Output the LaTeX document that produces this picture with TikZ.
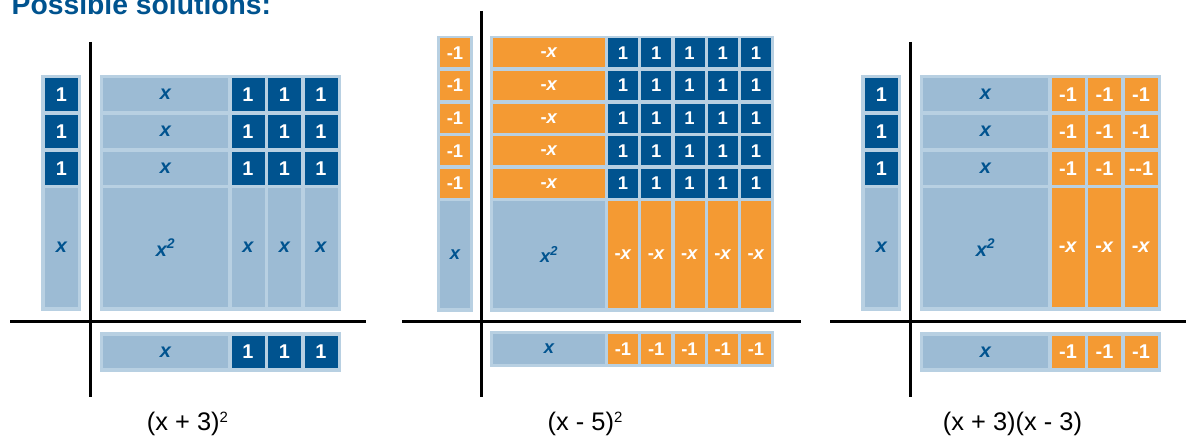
\documentclass[tikz,border=0pt]{standalone}
\usepackage{fontspec}
\setmainfont{Liberation Sans}
\definecolor{dblue}{HTML}{00538F}
\definecolor{lblue}{HTML}{9CBBD4}
\definecolor{fblue}{HTML}{B8D0E2}
\definecolor{orng}{HTML}{F49A33}
\newcommand{\TileFont}{\fontsize{20}{20}\selectfont}
\tikzset{
  tilebase/.style={inner sep=0pt, outer sep=0pt, anchor=north west, font=\bfseries\TileFont},
  framebox/.style={tilebase, fill=fblue},
  unittile/.style={tilebase, fill=dblue, text=white},
  negtile/.style={tilebase, fill=orng, text=white},
  vartile/.style={tilebase, fill=lblue, text=dblue, font=\bfseries\itshape\TileFont},
  axisline/.style={line width=3bp, black},
  caption/.style={anchor=base, inner sep=0pt, font=\fontsize{25.5}{26}\selectfont},
}
\newcommand{\SupTwo}{\raisebox{8bp}{\fontsize{15}{15}\selectfont 2}}
% style, name, x1, y1, x2, y2, text
\newcommand{\Tile}[7]{%
  \node[#1, minimum width={((#5)-(#3))*1bp}, minimum height={((#6)-(#4))*1bp}] (#2) at ({#3},{#4}) {#7};}
% #1 offset, #2 prefix, #3 small style, #4 small text, #5 strip style, #6 strip text, #7 text of cell r3c3
\newcommand{\SqPanel}[7]{%
  \coordinate (#2vt) at (90.5+#1,42);
  \coordinate (#2vb) at (90.5+#1,397);
  \coordinate (#2hl) at (10+#1,322);
  \coordinate (#2hr) at (366+#1,322);
  \Tile{framebox}{#2lf}{41+#1}{75}{81+#1}{311}{}
  \Tile{framebox}{#2mf}{100+#1}{75}{341+#1}{311}{}
  \Tile{framebox}{#2bf}{100+#1}{332}{341+#1}{372}{}
  \foreach \r/\y in {1/78,2/115,3/152}{%
    \Tile{unittile}{#2l\r}{45+#1}{\y}{78+#1}{\y+33}{1}
    \Tile{vartile}{#2x\r}{103+#1}{\y}{228+#1}{\y+33}{x}
    \foreach \c/\xx in {1/231.5,2/268,3/304.5}{%
      \Tile{#3}{#2m\r\c}{\xx+#1}{\y}{\xx+33+#1}{\y+33}{\ifnum\r\c=33 #7\else #4\fi}
    }
  }
  \Tile{vartile}{#2lx}{45+#1}{188}{78+#1}{307}{x}
  \Tile{vartile}{#2sq}{103+#1}{188}{228+#1}{307}{x\textsuperscript{2}}
  \Tile{vartile}{#2bx}{103+#1}{336}{228+#1}{368}{x}
  \foreach \c/\xx in {1/231.5,2/268,3/304.5}{%
    \Tile{#5}{#2s\c}{\xx+#1}{188}{\xx+33+#1}{307}{#6}
    \Tile{#3}{#2b\c}{\xx+#1}{336}{\xx+33+#1}{368}{#4}
  }
  \draw[axisline] (#2vt) -- (#2vb);
  \draw[axisline] (#2hl) -- (#2hr);
}
\begin{document}
\begin{tikzpicture}[x=1bp,y=-1bp]
\useasboundingbox (0,0) rectangle (1189,439);
\node[anchor=base west, inner sep=0pt, text=dblue, font=\bfseries\fontsize{28.4}{30}\selectfont] (title) at (11.5,15) {Possible solutions:};

% Panel 1: (x+3)^2
\SqPanel{0}{a}{unittile}{1}{vartile}{\textit{x}}{1}
\node[caption] (capa) at (187.5,431) {(x + 3)\SupTwo};

% Panel 3: (x+3)(x-3)
\SqPanel{820}{c}{negtile}{-1}{negtile}{-\textit{x}}{-{}-1}
\node[caption] (capc) at (1012.5,431) {(x + 3)(x - 3)};

% Panel 2: (x-5)^2
\begingroup
\renewcommand{\TileFont}{\fontsize{18.5}{18.5}\selectfont}
\coordinate (bvt) at (481.7,11);
\coordinate (bvb) at (481.7,397);
\coordinate (bhl) at (402,322);
\coordinate (bhr) at (801,322);
\Tile{framebox}{blf}{437}{36}{473}{312}{}
\Tile{framebox}{bmf}{490}{36}{774}{312}{}
\Tile{framebox}{bbf}{490}{331}{774}{367}{}
\foreach \r in {0,...,4}{%
  \pgfmathsetmacro\y{38.5+32.6*\r}
  \Tile{negtile}{bl\r}{440}{\y}{470}{\y+29}{-1}
  \Tile{negtile}{bx\r}{493}{\y}{605}{\y+29}{-\textit{x}}
  \foreach \c in {0,...,4}{%
    \pgfmathsetmacro\xx{608+33.25*\c}
    \Tile{unittile}{bm\r\c}{\xx}{\y}{\xx+30}{\y+29}{1}
  }
}
\Tile{vartile}{blx}{440}{201}{470}{308}{x}
\Tile{vartile}{bsq}{493}{201}{605}{308}{x\textsuperscript{2}}
\Tile{vartile}{bbx}{493}{334}{605}{364}{x}
\foreach \c in {0,...,4}{%
  \pgfmathsetmacro\xx{608+33.25*\c}
  \Tile{negtile}{bs\c}{\xx}{201}{\xx+30}{308}{-\textit{x}}
  \Tile{negtile}{bb\c}{\xx}{334}{\xx+30}{364}{-1}
}
\draw[axisline] (bvt) -- (bvb);
\draw[axisline] (bhl) -- (bhr);
\endgroup
\node[caption] (capb) at (585,431) {(x - 5)\SupTwo};
\end{tikzpicture}
\end{document}
